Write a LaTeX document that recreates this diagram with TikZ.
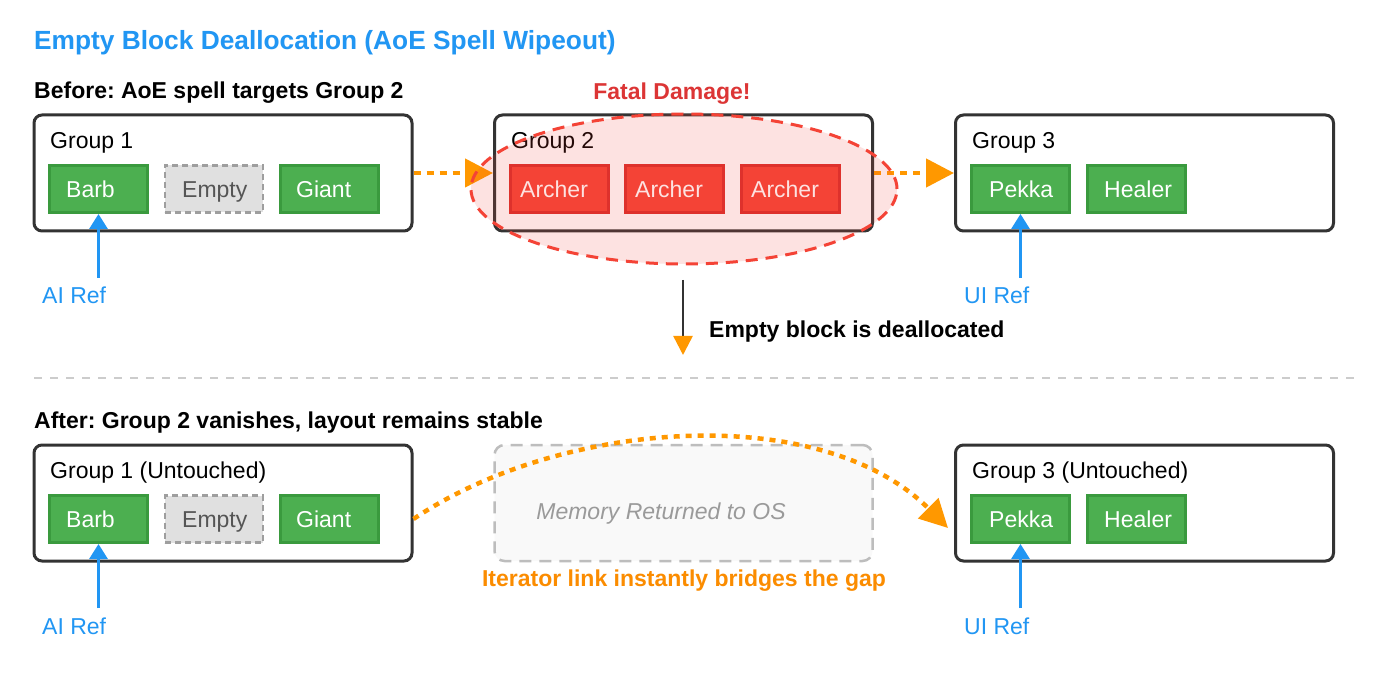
\documentclass[tikz,border=0pt]{standalone}
\usepackage{fontspec}
\setmainfont{Liberation Sans}
\usetikzlibrary{arrows.meta,shapes.geometric,calc}
\definecolor{titleblue}{HTML}{2196F3}
\definecolor{refblue}{HTML}{2196F3}
\definecolor{gfill}{HTML}{4CAF50}
\definecolor{gdraw}{HTML}{3A9A3E}
\definecolor{rfill}{HTML}{F44336}
\definecolor{rdraw}{HTML}{DB2E2B}
\definecolor{efill}{HTML}{E0E0E0}
\definecolor{edraw}{HTML}{9E9E9E}
\definecolor{etext}{HTML}{555555}
\definecolor{boxline}{HTML}{333333}
\definecolor{orangeA}{HTML}{FF9800}
\definecolor{orangeT}{HTML}{FB8C00}
\definecolor{fatal}{HTML}{DC3535}
\definecolor{memfill}{HTML}{F9F9F9}
\definecolor{memdraw}{HTML}{BDBDBD}
\definecolor{memtext}{HTML}{9A9A9A}
\definecolor{sep}{HTML}{CCCCCC}
\frenchspacing
\tikzset{
  txt/.style={font=\fontsize{23}{27}\selectfont, inner sep=0pt, anchor=base west},
  bold/.style={txt, font=\fontsize{23}{27}\selectfont\bfseries},
  groupbox/.style={draw=boxline, line width=3pt, rounded corners=8pt, minimum width=378pt, minimum height=116pt, inner sep=0pt},
  unitg/.style={draw=gdraw, fill=gfill, line width=3pt, minimum width=98pt, minimum height=47pt, inner sep=0pt},
  unitr/.style={draw=rdraw, fill=rfill, line width=3pt, minimum width=98pt, minimum height=47pt, inner sep=0pt},
  unite/.style={draw=edraw, fill=efill, line width=2.5pt, dash pattern=on 6pt off 4pt, minimum width=98pt, minimum height=47pt, inner sep=0pt},
  wtext/.style={txt, text=white},
  etxt/.style={txt, text=etext},
  orangelink/.style={draw=orangeA, line width=4.5pt, dash pattern=on 7pt off 6pt, -{Triangle[length=28pt,width=28pt]}},
  refarrow/.style={draw=refblue, line width=3pt, -{Triangle[length=15pt,width=18pt]}},
  reflabel/.style={txt, text=refblue},
}
\begin{document}
\begin{tikzpicture}[x=1pt,y=-1pt]
\useasboundingbox (0,0) rectangle (1400,692);
\fill[white] (0,0) rectangle (1400,692);

% title and headings
\node[bold, font=\fontsize{26.3}{31}\selectfont\bfseries, text=titleblue] (title) at (34,49.5) {Empty Block Deallocation (AoE Spell Wipeout)};
\node[bold] (before) at (34,99) {Before: AoE spell targets Group 2};
\node[bold, text=fatal, anchor=base] (fatal) at (672,99.5) {Fatal Damage!};

% ---------- Before row ----------
\node[groupbox] (g1) at (223,173) {};
\node[txt] (g1t) at (50,148.5) {Group 1};
\node[unitg] (barb) at (98.5,189) {};
\node[wtext] (barbt) at (66,197.5) {Barb};
\node[unite] (empty) at (214,189) {};
\node[etxt] (emptyt) at (182,197.5) {Empty};
\node[unitg] (giant) at (329.5,189) {};
\node[wtext] (giantt) at (296,197.5) {Giant};

\node[groupbox] (g2) at (683.5,173) {};
\node[txt] (g2t) at (511,148.5) {Group 2};
\node[unitr] (a1) at (559.5,189) {};
\node[wtext] (a1t) at (520,197.5) {Archer};
\node[unitr] (a2) at (674.5,189) {};
\node[wtext] (a2t) at (635,197.5) {Archer};
\node[unitr] (a3) at (790.5,189) {};
\node[wtext] (a3t) at (751,197.5) {Archer};

\node[groupbox] (g3) at (1144.5,173) {};
\node[txt] (g3t) at (972,148.5) {Group 3};
\node[unitg] (pekka) at (1020.5,189) {};
\node[wtext] (pekkat) at (989,197.5) {Pekka};
\node[unitg] (healer) at (1136.5,189) {};
\node[wtext] (healert) at (1104,197.5) {Healer};

\draw[orangelink] (g1.east) -- (g2.west);
\draw[orangelink] (g2.east) -- (g3.west);

\node[ellipse, draw=rfill, fill=rfill, fill opacity=0.15, line width=3pt, dash pattern=on 12pt off 8pt, minimum width=426pt, minimum height=150pt, inner sep=0pt] (blast) at (684,189) {};

% refs
\node[reflabel] (ai) at (42,304) {AI Ref};
\coordinate (aistart) at (98.5,278);
\draw[refarrow] (aistart) -- (barb.south);
\node[reflabel] (ui) at (964,304) {UI Ref};
\coordinate (uistart) at (1020.5,278);
\draw[refarrow] (uistart) -- (pekka.south);

% dealloc arrow
\coordinate (d1) at (683,280);
\coordinate (d2) at (683,355);
\draw[draw=boxline, line width=2.5pt, -{Triangle[length=19pt,width=19pt,color=orangeA]}] (d1) -- (d2);
\node[bold] (dealloc) at (709,337.5) {Empty block is deallocated};

% separator
\coordinate (s1) at (34,378.5);
\coordinate (s2) at (1359,378.5);
\draw[sep, line width=2pt, dash pattern=on 8pt off 8pt] (s1) -- (s2);

% ---------- After row ----------
\node[bold] (after) at (34,428.5) {After: Group 2 vanishes, layout remains stable};

\node[groupbox] (g1b) at (223,503) {};
\node[txt] (g1bt) at (50,478.5) {Group 1 (Untouched)};
\node[unitg] (barbb) at (98.5,519) {};
\node[wtext] (barbbt) at (66,527.5) {Barb};
\node[unite] (emptyb) at (214,519) {};
\node[etxt] (emptybt) at (182,527.5) {Empty};
\node[unitg] (giantb) at (329.5,519) {};
\node[wtext] (giantbt) at (296,527.5) {Giant};

\node[draw=memdraw, fill=memfill, line width=2.5pt, dash pattern=on 12pt off 8pt, rounded corners=10pt, minimum width=378pt, minimum height=116pt, inner sep=0pt] (mem) at (683.5,503) {};
\node[txt, text=memtext, font=\fontsize{23}{27}\selectfont\itshape, anchor=base] (memt) at (661,519) {Memory Returned to OS};

\node[groupbox] (g3b) at (1144.5,503) {};
\node[txt] (g3bt) at (972,478.5) {Group 3 (Untouched)};
\node[unitg] (pekkab) at (1020.5,519) {};
\node[wtext] (pekkabt) at (989,527.5) {Pekka};
\node[unitg] (healerb) at (1136.5,519) {};
\node[wtext] (healerbt) at (1104,527.5) {Healer};

\coordinate (cend) at (948,528);
\draw[orangelink, dash pattern=on 6pt off 6pt] (g1b.east |- giantb.east) .. controls (560,420) and (820,400) .. (cend);
\node[bold, text=orangeT, anchor=base] (bridge) at (684,586) {Iterator link instantly bridges the gap};

\node[reflabel] (ai2) at (42,634) {AI Ref};
\coordinate (ai2start) at (98.5,608);
\draw[refarrow] (ai2start) -- (barbb.south);
\node[reflabel] (ui2) at (964,634) {UI Ref};
\coordinate (ui2start) at (1020.5,608);
\draw[refarrow] (ui2start) -- (pekkab.south);
\end{tikzpicture}
\end{document}
